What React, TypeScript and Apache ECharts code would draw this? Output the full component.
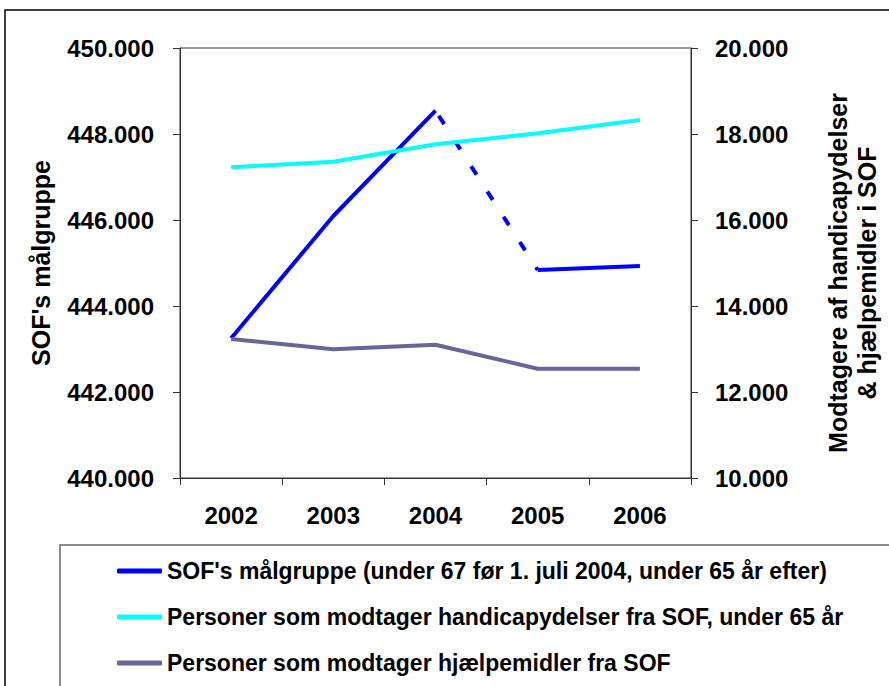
import React, { useEffect, useRef } from "react";
import * as echarts from "echarts";

const years = ["2002", "2003", "2004", "2005", "2006"];
const sofMaalgruppe = [443249, 446093, 448542, 444837, 444930];
const handicapydelser = [17225, 17356, 17760, 18016, 18326];
const hjaelpemidler = [13233, 12993, 13100, 12542, 12542];

const nameSof = "SOF's målgruppe (under 67 før 1. juli 2004, under 65 år efter)";
const nameHandicap = "Personer som modtager handicapydelser fra SOF, under 65 år";
const nameHjaelp = "Personer som modtager hjælpemidler fra SOF";
const leftAxisTitle = "SOF's målgruppe";
const rightAxisTitle = "Modtagere af handicapydelser\n& hjælpemidler i SOF";

const FONT = "'Liberation Sans', Arial, Helvetica, sans-serif";

const fmt = (v: number) => String(v).replace(/\B(?=(\d{3})+(?!\d))/g, ".");

export default function App() {
  const ref = useRef<HTMLDivElement>(null);
  useEffect(() => {
    if (!ref.current) return;
    document.body.style.margin = "0";
    document.documentElement.style.overflow = "hidden";
    document.body.style.overflow = "hidden";
    const chart = echarts.init(ref.current, undefined, {
      renderer: "svg",
      width: 889,
      height: 686,
    });
    const sofPart1 = sofMaalgruppe.map((v, i) => (i <= 2 ? v : "-"));
    const sofDash = sofMaalgruppe.map((v, i) => (i === 2 || i === 3 ? v : "-"));
    const sofPart2 = sofMaalgruppe.map((v, i) => (i >= 3 ? v : "-"));
    const textBase = { fontFamily: FONT, fontWeight: "bold" as const, color: "#000" };
    chart.setOption({
      animation: false,
      backgroundColor: "#fff",
      grid: {
        left: 180,
        width: 520,
        top: 48,
        height: 430,
        show: true,
        borderColor: "#333",
        borderWidth: 1,
        containLabel: false,
      },
      legend: {
        orient: "vertical",
        left: 112,
        top: 554,
        data: [nameSof, nameHandicap, nameHjaelp],
        itemWidth: 45,
        itemHeight: 5,
        itemGap: 22,
        icon: "roundRect",
        selectedMode: false,
        textStyle: { ...textBase, fontSize: 23, lineHeight: 24 },
      },
      xAxis: {
        type: "category",
        data: years,
        axisLine: { lineStyle: { color: "#333", width: 1 } },
        axisTick: { show: true, length: 7, lineStyle: { color: "#333" } },
        axisLabel: { ...textBase, fontSize: 24, margin: 25 },
      },
      yAxis: [
        {
          type: "value",
          min: 440000,
          max: 450000,
          interval: 2000,
          position: "left",
          name: leftAxisTitle,
          nameLocation: "middle",
          nameRotate: 90,
          nameGap: 127,
          nameTextStyle: { ...textBase, fontSize: 25 },
          splitLine: { show: false },
          axisLine: { show: true, lineStyle: { color: "#333" } },
          axisTick: { show: true, length: 7, lineStyle: { color: "#333" } },
          axisLabel: { ...textBase, fontSize: 24, margin: 26, formatter: fmt },
        },
        {
          type: "value",
          min: 10000,
          max: 20000,
          interval: 2000,
          position: "right",
          name: rightAxisTitle,
          nameLocation: "middle",
          nameRotate: 90,
          nameGap: 132,
          nameTextStyle: {
            ...textBase,
            fontSize: 25,
            lineHeight: 29,
            align: "center",
            padding: [0, 20, 0, 0],
          },
          splitLine: { show: false },
          axisLine: { show: true, lineStyle: { color: "#333" } },
          axisTick: { show: true, length: 7, lineStyle: { color: "#333" } },
          axisLabel: { ...textBase, fontSize: 24, margin: 24, formatter: fmt },
        },
      ],
      series: [
        {
          name: nameSof,
          type: "line",
          yAxisIndex: 0,
          data: sofPart1,
          symbol: "none",
          color: "#0000FF",
          lineStyle: { color: "#0000FF", width: 4 },
        },
        {
          name: "sof-dash",
          type: "line",
          yAxisIndex: 0,
          data: sofDash,
          symbol: "none",
          color: "#0000FF",
          lineStyle: { color: "#0000FF", width: 4, type: [10, 20], dashOffset: -6 },
        },
        {
          name: "sof-part2",
          type: "line",
          yAxisIndex: 0,
          data: sofPart2,
          symbol: "none",
          color: "#0000FF",
          lineStyle: { color: "#0000FF", width: 4 },
        },
        {
          name: nameHandicap,
          type: "line",
          yAxisIndex: 1,
          data: handicapydelser,
          symbol: "none",
          color: "#00FFFF",
          lineStyle: { color: "#00FFFF", width: 4 },
        },
        {
          name: nameHjaelp,
          type: "line",
          yAxisIndex: 1,
          data: hjaelpemidler,
          symbol: "none",
          color: "#666699",
          lineStyle: { color: "#666699", width: 4 },
        },
      ],
      graphic: [
        {
          type: "rect",
          shape: { x: 5, y: 10, width: 900, height: 700 },
          style: { fill: "none", stroke: "#000", lineWidth: 1.5 },
          silent: true,
        },
        {
          type: "rect",
          shape: { x: 60, y: 545, width: 850, height: 200 },
          style: { fill: "none", stroke: "#666", lineWidth: 1.5 },
          silent: true,
        },
      ],
    });
    return () => chart.dispose();
  }, []);
  return (
    <div
      ref={ref}
      style={{ position: "absolute", left: 0, top: 0, width: 889, height: 686 }}
    />
  );
}
